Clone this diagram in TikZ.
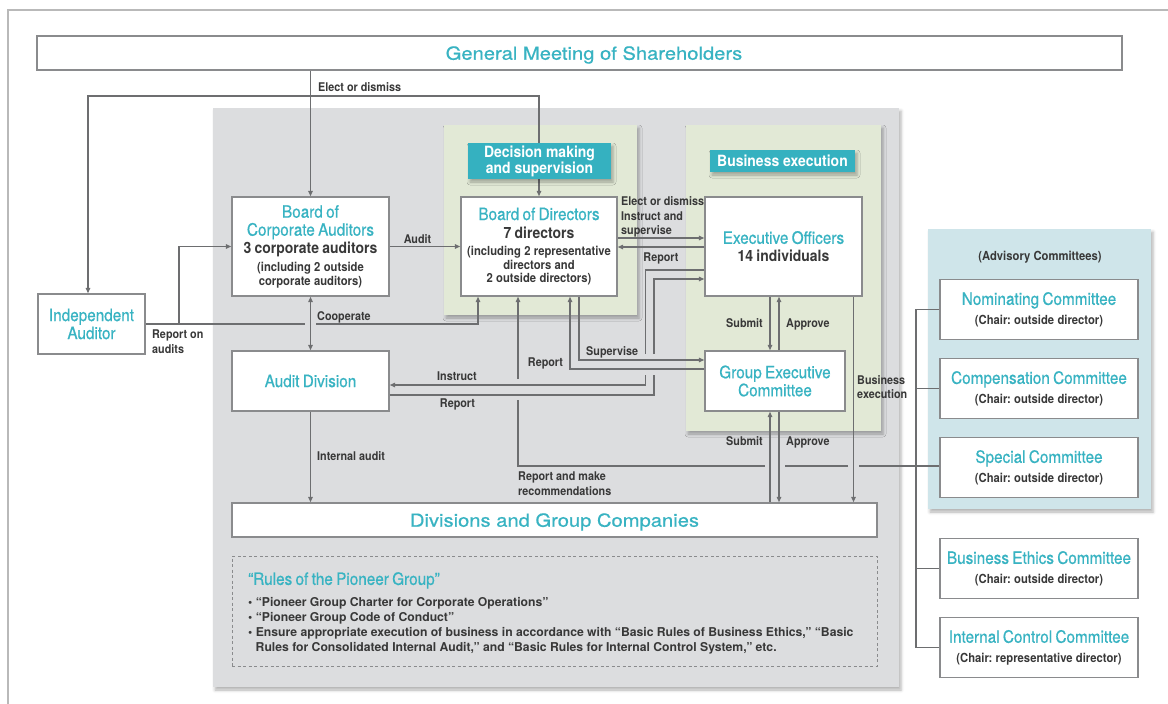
\documentclass[tikz,border=0pt]{standalone}
\usepackage{fontspec}
\setmainfont{TeX Gyre Heros}
\newfontfamily\cnd[FakeStretch=0.9]{TeX Gyre Heros}
\newfontfamily\cndm[FakeStretch=0.9, FakeBold=0.6]{TeX Gyre Heros}
\newfontfamily\wde[FakeStretch=1.12, FakeBold=0.6]{TeX Gyre Heros}
\usetikzlibrary{arrows.meta,shadows.blur}
\definecolor{tealc}{HTML}{38B3C2}
\definecolor{tagc}{HTML}{35B1C0}
\definecolor{ink}{HTML}{383838}
\definecolor{lnc}{HTML}{6D6E70}
\definecolor{bdc}{HTML}{8A8B8D}
\definecolor{pgray}{HTML}{DCDDDF}
\definecolor{pgreen}{HTML}{E2E9D6}
\definecolor{pblue}{HTML}{CFE5EA}
\definecolor{frm}{HTML}{B9B9B9}
\setlength\parindent{0pt}
\frenchspacing
\def\ttl{\leavevmode\cndm\fontsize{17}{18}\selectfont\color{tealc}}
\def\bgl{\leavevmode\cnd\bfseries\fontsize{15.5}{18}\selectfont}
\def\sml{\leavevmode\cnd\bfseries\fontsize{12.5}{13.5}\selectfont}
\def\blt{\leavevmode\bfseries\fontsize{12.2}{15}\selectfont}
\tikzset{
  box/.style={draw=bdc, line width=1.4pt, fill=white, inner sep=0pt, align=center, text=ink},
  cmt/.style={box, minimum width=198pt, minimum height=60pt, text width=194pt},
  shd/.style={blur shadow={shadow xshift=2pt, shadow yshift=-3pt, shadow blur radius=3pt, shadow opacity=30}},
  ln/.style={draw=lnc, line width=1.3pt},
  arr/.style={ln, -{Triangle[length=5.5pt,width=4.5pt]}},
  dbl/.style={ln, {Triangle[length=5.5pt,width=4.5pt]}-{Triangle[length=5.5pt,width=4.5pt]}},
  lbl/.style={font=\cnd\bfseries\fontsize{12}{15}\selectfont, text=ink, inner sep=0pt, align=left},
  tag/.style={fill=tagc, text=white, inner sep=0pt, align=center, font=\cnd\bfseries\fontsize{15.5}{16}\selectfont, shd},
  wide/.style={box, text depth=0pt, font=\wde\fontsize{18}{20}\selectfont, text=tealc},
  rules/.style={draw=bdc, line width=1pt, dash pattern=on 3pt off 2.5pt, minimum width=645pt, minimum height=110pt}
}
\begin{document}
\begin{tikzpicture}[x=1pt,y=-1pt]
  \useasboundingbox (0,0) rectangle (1168,704);
  \draw[frm, line width=1.3pt] (8,704) -- (8,10) -- (1168,10);
  \fill[pgray, shd] (213,108) rectangle (899,687);
  \fill[pgreen, shd] (444,125) rectangle (637,315);
  \fill[pgreen, shd] (686,125) rectangle (881,431);
  \fill[pblue, shd] (928,229) rectangle (1151,509);

  \node[wide, minimum width=1085pt, minimum height=34pt] (gm) at (579.5,53) {\hspace*{29pt}General Meeting of Shareholders};
  \node[box, minimum width=157pt, minimum height=99pt, text width=153pt] (bca) at (310.5,246.5) {{\ttl Board of\\Corporate Auditors\par}{\bgl 3 corporate auditors\par}\vspace{4.4pt}{\sml (including 2 outside\\corporate auditors)\par}};
  \node[box, minimum width=156pt, minimum height=99pt, text width=152pt] (bod) at (539,246.5) {{\ttl Board of Directors\par}{\bgl 7 directors\par}\vspace{4.4pt}{\sml (including 2 representative\\directors and\\2 outside directors)\par}};
  \node[box, minimum width=157pt, minimum height=99pt, text width=153pt] (eo) at (783.5,246.5) {{\ttl Executive Officers\par}{\bgl 14 individuals\par}};
  \node[box, minimum width=107pt, minimum height=60pt, text width=103pt] (ia) at (91.5,324) {{\ttl Independent\\Auditor\par}};
  \node[box, minimum width=157pt, minimum height=60pt, text width=153pt] (ad) at (310.5,381) {{\ttl Audit Division\par}};
  \node[box, minimum width=140pt, minimum height=60pt, text width=136pt] (gec) at (775,381) {{\ttl Group Executive\\Committee\par}};
  \node[wide, minimum width=645pt, minimum height=34pt] (dgc) at (554.5,520) {Divisions and Group Companies};
  \node[rules] (rul) at (554.5,611) {};
  \node[anchor=north west, text width=625pt, inner sep=0pt, align=left, text=ink] (rtx) at (248,572) {{\leavevmode\cndm\fontsize{17}{18}\selectfont\color{tealc}“Rules of the Pioneer Group”\par}\vspace{7pt}{\blt\textbullet\ “Pioneer Group Charter for Corporate Operations”\par
    \textbullet\ “Pioneer Group Code of Conduct”\par
    \hangindent=7.5pt\hangafter=1\textbullet\ Ensure appropriate execution of business in accordance with “Basic Rules of Business Ethics,” “Basic\newline Rules for Consolidated Internal Audit,” and “Basic Rules for Internal Control System,” etc.\par}};

  \node[lbl, font=\cnd\bfseries\fontsize{12.5}{15}\selectfont] (adv) at (1040,257) {(Advisory Committees)};
  \node[cmt] (nom) at (1039,309.5) {{\ttl Nominating Committee\par}\vspace{6pt}{\sml (Chair: outside director)\par}};
  \node[cmt, minimum height=60pt] (cmp) at (1039,388.5) {{\ttl Compensation Committee\par}\vspace{6pt}{\sml (Chair: outside director)\par}};
  \node[cmt] (spc) at (1039,467.5) {{\ttl Special Committee\par}\vspace{6pt}{\sml (Chair: outside director)\par}};
  \node[cmt] (bec) at (1039,568.5) {{\ttl Business Ethics Committee\par}\vspace{6pt}{\sml (Chair: outside director)\par}};
  \node[cmt] (icc) at (1039,647.5) {{\ttl Internal Control Committee\par}\vspace{6pt}{\sml (Chair: representative director)\par}};

  \coordinate (el) at (310.5,96);
  \coordinate (ra) at (179,324);
  \coordinate (rb) at (305,324);
  \coordinate (rc) at (316,324);
  \coordinate (rd) at (478,324);
  \coordinate (ia1) at (645.5,270);
  \coordinate (ia2) at (645.5,354);
  \coordinate (ia3) at (645.5,375);
  \coordinate (ia4) at (645.5,385);
  \coordinate (rp1) at (654,395);
  \coordinate (rp2) at (654,375);
  \coordinate (rp3) at (654,354);
  \coordinate (rp4) at (654,279);
  \coordinate (sv) at (579,360);
  \coordinate (gr) at (570,369);
  \coordinate (q1) at (859,466);
  \coordinate (q2) at (848,466);
  \coordinate (q3) at (785,466);
  \coordinate (q4) at (765,466);
  \coordinate (q5) at (518,466);
  \coordinate (q6) at (518,400);
  \coordinate (q7) at (518,379);
  \coordinate (t) at (916,0);

  \draw[arr] (gm.south -| bca.north) -- (bca.north);
  \draw[arr] (el) -- ([xshift=-3.5pt]el -| ia.north) -- ([xshift=-3.5pt]ia.north);
  \draw[arr] (el) -- (el -| bod.north) -- (bod.north);
  \draw[dbl] (bca.south) -- (ad.north);
  \draw[arr] (bca.east) -- (bod.west);
  \draw[arr] (ia.east) -- (ra) |- (bca.west);
  \draw[arr] (ra) -- (rb) (rc) -- (rd) -- (rd |- bod.south);
  \draw[arr] ([yshift=8.5pt]bod.east) -- ([yshift=8.5pt]eo.west);
  \draw[arr] ([yshift=-0.5pt]eo.west) -- ([yshift=-0.5pt]bod.east);
  \draw[arr] (ia1 -| eo.west) -- (ia1) -- (ia2) (ia3) -- (ia4) -- (ia4 -| ad.east);
  \draw[arr] (rp1 -| ad.east) -- (rp1) -- (rp2) (rp3) -- (rp4) -- (rp4 -| eo.west);
  \draw[arr] (sv |- bod.south) -- (sv) -- (sv -| gec.west);
  \draw[arr] (gr -| gec.west) -- (gr) -- (gr |- bod.south);
  \draw[arr] (spc.west |- q1) -- (q1) (q2) -- (q3) (q4) -- (q5) -- (q6) (q7) -- (q7 |- bod.south);
  \draw[arr] ([xshift=-5pt]gec.north |- eo.south) -- ([xshift=-5pt]gec.north);
  \draw[arr] ([xshift=4pt]gec.north) -- ([xshift=4pt]gec.north |- eo.south);
  \draw[arr] ([xshift=-5pt]gec.south |- dgc.north) -- ([xshift=-5pt]gec.south);
  \draw[arr] ([xshift=4pt]gec.south) -- ([xshift=4pt]gec.south |- dgc.north);
  \draw[arr] ([xshift=70pt]eo.south) -- ([xshift=70pt]eo.south |- dgc.north);
  \draw[arr] (ad.south) -- (ad.south |- dgc.north);
  \draw[ln] (nom.west) -- (nom.west -| t) -- (icc.west -| t) -- (icc.west);
  \draw[ln] (cmp.west -| t) -- (cmp.west);
  \draw[ln] (bec.west -| t) -- (bec.west);

  \node[lbl, anchor=north west] (l1) at (318,82.6) {Elect or dismiss};
  \node[lbl, anchor=north] (l2) at (417.5,234.6) {Audit};
  \node[lbl, anchor=north west] (l3) at (317,311.6) {Cooperate};
  \node[lbl, anchor=north west] (l4) at (152,329.6) {Report on\\audits};
  \node[lbl, anchor=north west, font=\cnd\bfseries\fontsize{12}{14.5}\selectfont] (l5) at (621,196.6) {Elect or dismiss\\Instruct and\\supervise};
  \node[lbl, anchor=north] (l6) at (661,252.6) {Report};
  \node[lbl, anchor=north west] (l7) at (586,346.6) {Supervise};
  \node[lbl, anchor=north] (l8) at (545.5,357.6) {Report};
  \node[lbl, anchor=north] (l9) at (457,371.6) {Instruct};
  \node[lbl, anchor=north] (l10) at (457.5,398.6) {Report};
  \node[lbl, anchor=north east] (l11) at (763,318.6) {Submit};
  \node[lbl, anchor=north west] (l12) at (786,318.6) {Approve};
  \node[lbl, anchor=north east] (l13) at (763,436.6) {Submit};
  \node[lbl, anchor=north west] (l14) at (786,436.6) {Approve};
  \node[lbl, anchor=north west, font=\cnd\bfseries\fontsize{12}{13.5}\selectfont] (l15) at (857,375.6) {Business\\execution};
  \node[lbl, anchor=north west] (l16) at (317,451.6) {Internal audit};
  \node[lbl, anchor=north west] (l17) at (518,471.6) {Report and make\\recommendations};

  \node[tag, minimum width=143pt, minimum height=36pt] (dm) at (539.5,161) {Decision making\\and supervision};
  \node[tag, minimum width=145pt, minimum height=22pt] (bx) at (782.5,161) {Business execution};
\end{tikzpicture}
\end{document}
